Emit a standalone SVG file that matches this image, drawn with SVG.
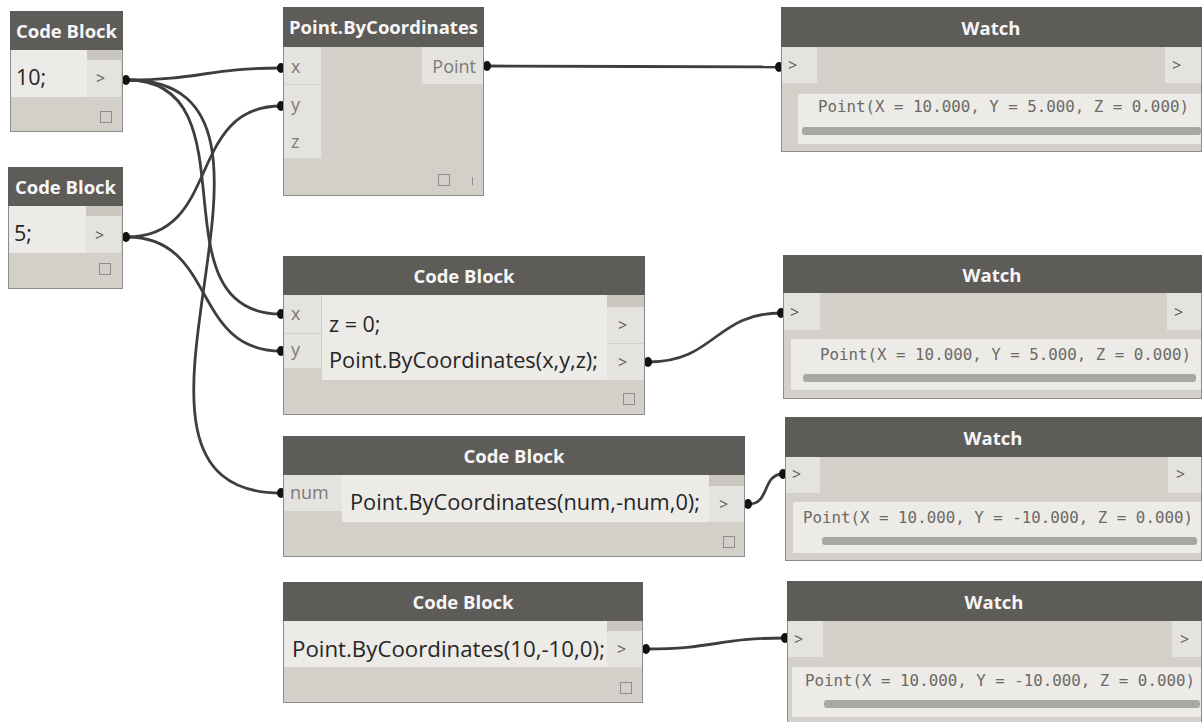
<svg xmlns="http://www.w3.org/2000/svg" width="1203" height="722" viewBox="0 0 1203 722">
<style>
.bd{fill:#d3d0c9;stroke:#8e8c88;stroke-width:1}
.hd{fill:#5e5c59}
.lt{fill:#ecebe7}
.pt{fill:#e5e3df}
.st{fill:#c9c6bf}
.sb{fill:#a9a7a3}
.sq{fill:none;stroke:#8f8d89;stroke-width:1}
.ttl{font-family:"Open Sans","Noto Sans",sans-serif;font-weight:bold;font-size:18.5px;fill:#f6f6f6;text-anchor:middle}
.code{font-family:"Open Sans","Noto Sans",sans-serif;font-size:21.5px;fill:#262626}
.pl{font-family:"Open Sans","Noto Sans",sans-serif;font-size:18px;fill:#7c7a76}
.gt{font-family:"Open Sans","Noto Sans",sans-serif;font-size:16px;fill:#5a5a5a}
.mono{font-family:"DejaVu Sans Mono","Liberation Mono",monospace;font-size:15.8px;fill:#6b6965}
.w{fill:none;stroke:#3e3e3e;stroke-width:2.8}
.dot{fill:#111}
</style>
<g id="connectors">
<path class="w" d="M127,80 C199,80 209,68 281,68"/>
<path class="w" d="M127,80 C258,80 150,314 281,314"/>
<path class="w" d="M127,80 C340,80 68,493 281,493"/>
<path class="w" d="M127,237 C222,237 186,106 281,106"/>
<path class="w" d="M127,237 C217,237 191,351 281,351"/>
<path class="w" d="M488,66 C625,66 642,67 779,67"/>
<path class="w" d="M649,362 C715,362 715,313 781,313"/>
<path class="w" d="M749,504 C770,504 762,474 783,474"/>
<path class="w" d="M647,649 C713,649 719,638 785,638"/>
<ellipse class="dot" cx="126" cy="80" rx="4" ry="5"/>
<ellipse class="dot" cx="126" cy="237" rx="4" ry="5"/>
<ellipse class="dot" cx="281" cy="68" rx="4" ry="5"/>
<ellipse class="dot" cx="281" cy="106" rx="4" ry="5"/>
<ellipse class="dot" cx="281" cy="314" rx="4" ry="5"/>
<ellipse class="dot" cx="281" cy="351" rx="4" ry="5"/>
<ellipse class="dot" cx="281" cy="493" rx="4" ry="5"/>
<ellipse class="dot" cx="487" cy="66" rx="4" ry="5"/>
<ellipse class="dot" cx="779" cy="67" rx="4" ry="5"/>
<ellipse class="dot" cx="648" cy="362" rx="4" ry="5"/>
<ellipse class="dot" cx="781" cy="313" rx="4" ry="5"/>
<ellipse class="dot" cx="748" cy="504" rx="4" ry="5"/>
<ellipse class="dot" cx="783" cy="474" rx="4" ry="5"/>
<ellipse class="dot" cx="646" cy="649" rx="4" ry="5"/>
<ellipse class="dot" cx="785" cy="638" rx="4" ry="5"/>
</g>
<g id="cb1">
<rect class="bd" x="10.5" y="11.5" width="112" height="120"/>
<rect class="hd" x="10" y="11" width="113" height="39"/>
<text class="ttl" x="66.5" y="38">Code Block</text>
<rect class="lt" x="11" y="50" width="76" height="47"/>
<rect class="st" x="87" y="50" width="34" height="10"/>
<rect class="pt" x="87" y="60" width="34" height="37"/>
<text class="code" x="16" y="85">10;</text>
<text class="gt" x="96" y="84">&gt;</text>
<rect class="sq" x="100.5" y="111.5" width="11" height="11"/>
</g>
<g id="cb2">
<rect class="bd" x="8.5" y="167.5" width="114" height="121"/>
<rect class="hd" x="8" y="167" width="115" height="39"/>
<text class="ttl" x="65.5" y="194">Code Block</text>
<rect class="lt" x="9" y="206" width="77" height="47"/>
<rect class="st" x="86" y="206" width="35" height="10"/>
<rect class="pt" x="86" y="216" width="35" height="37"/>
<text class="code" x="14" y="241">5;</text>
<text class="gt" x="95" y="241">&gt;</text>
<rect class="sq" x="99.5" y="263.5" width="11" height="11"/>
</g>
<g id="pbc">
<rect class="bd" x="283.5" y="7.5" width="200" height="188"/>
<rect class="hd" x="283" y="7" width="201" height="40"/>
<text class="ttl" x="383.5" y="34">Point.ByCoordinates</text>
<rect class="pt" x="284" y="47" width="37" height="37"/>
<rect class="pt" x="284" y="85" width="37" height="73"/>
<text class="pl" x="291" y="73">x</text>
<text class="pl" x="291" y="111">y</text>
<text class="pl" x="291" y="148">z</text>
<rect class="pt" x="422" y="47" width="61" height="37"/>
<text class="pl" x="476" y="73" text-anchor="end">Point</text>
<rect class="sq" x="438.5" y="174.5" width="11" height="11"/>
<line x1="472.5" y1="177" x2="472.5" y2="185" stroke="#8f8d89" stroke-width="1"/>
</g>
<g id="cb3">
<rect class="bd" x="283.5" y="256.5" width="361" height="158"/>
<rect class="hd" x="283" y="256" width="362" height="39"/>
<text class="ttl" x="464" y="283">Code Block</text>
<rect class="pt" x="284" y="295" width="37" height="38"/>
<rect class="pt" x="284" y="334" width="37" height="34"/>
<text class="pl" x="291" y="320">x</text>
<text class="pl" x="291" y="356">y</text>
<rect class="lt" x="322" y="295" width="285" height="85"/>
<rect class="st" x="607" y="295" width="37" height="12"/>
<rect class="pt" x="607" y="307" width="37" height="36"/>
<rect class="pt" x="607" y="344" width="37" height="36"/>
<text class="gt" x="618" y="331">&gt;</text>
<text class="gt" x="618" y="368">&gt;</text>
<text class="code" x="329" y="332">z = 0;</text>
<text class="code" x="329" y="368" textLength="269" lengthAdjust="spacingAndGlyphs">Point.ByCoordinates(x,y,z);</text>
<rect class="sq" x="623.5" y="393.5" width="11" height="11"/>
</g>
<g id="cb4">
<rect class="bd" x="283.5" y="436.5" width="461" height="120"/>
<rect class="hd" x="283" y="436" width="462" height="39"/>
<text class="ttl" x="514" y="463">Code Block</text>
<rect class="pt" x="284" y="475" width="58" height="36"/>
<text class="pl" x="290" y="499">num</text>
<rect class="lt" x="342" y="475" width="367" height="47"/>
<rect class="st" x="709" y="475" width="35" height="11"/>
<rect class="pt" x="709" y="486" width="35" height="36"/>
<text class="gt" x="719" y="510">&gt;</text>
<text class="code" x="350" y="510" textLength="350" lengthAdjust="spacingAndGlyphs">Point.ByCoordinates(num,-num,0);</text>
<rect class="sq" x="723.5" y="536.5" width="11" height="11"/>
</g>
<g id="cb5">
<rect class="bd" x="283.5" y="582.5" width="359" height="120"/>
<rect class="hd" x="283" y="582" width="360" height="39"/>
<text class="ttl" x="463" y="609">Code Block</text>
<rect class="lt" x="284" y="621" width="323" height="46"/>
<rect class="st" x="607" y="621" width="35" height="10"/>
<rect class="pt" x="607" y="631" width="35" height="36"/>
<text class="gt" x="617" y="655">&gt;</text>
<text class="code" x="292" y="657" textLength="313" lengthAdjust="spacingAndGlyphs">Point.ByCoordinates(10,-10,0);</text>
<rect class="sq" x="620.5" y="682.5" width="11" height="11"/>
</g>
<g id="watch1">
<rect class="bd" x="781.5" y="7.5" width="420" height="144"/>
<rect class="hd" x="781" y="7" width="421" height="40"/>
<text class="ttl" x="991" y="35">Watch</text>
<rect class="pt" x="782" y="47" width="35" height="36"/>
<rect class="pt" x="1165" y="47" width="36" height="36"/>
<text class="gt" x="788" y="71">&gt;</text>
<text class="gt" x="1172" y="71">&gt;</text>
<rect class="lt" x="798" y="94" width="403" height="50"/>
<text class="mono" x="818" y="112">Point(X = 10.000, Y = 5.000, Z = 0.000)</text>
<rect class="sb" x="802" y="127" width="399" height="8" rx="3"/>
</g>
<g id="watch2">
<rect class="bd" x="783.5" y="255.5" width="418" height="143"/>
<rect class="hd" x="783" y="255" width="419" height="38"/>
<text class="ttl" x="992" y="282">Watch</text>
<rect class="pt" x="784" y="293" width="36" height="37"/>
<rect class="pt" x="1167" y="293" width="34" height="37"/>
<text class="gt" x="790" y="318">&gt;</text>
<text class="gt" x="1174" y="318">&gt;</text>
<rect class="lt" x="791" y="339" width="410" height="51"/>
<text class="mono" x="820" y="360">Point(X = 10.000, Y = 5.000, Z = 0.000)</text>
<rect class="sb" x="803" y="374" width="393" height="8" rx="3"/>
</g>
<g id="watch3">
<rect class="bd" x="785.5" y="417.5" width="416" height="143"/>
<rect class="hd" x="785" y="417" width="417" height="40"/>
<text class="ttl" x="993" y="445">Watch</text>
<rect class="pt" x="786" y="457" width="34" height="36"/>
<rect class="pt" x="1168" y="457" width="33" height="36"/>
<text class="gt" x="792" y="480">&gt;</text>
<text class="gt" x="1176" y="480">&gt;</text>
<rect class="lt" x="793" y="502" width="408" height="51"/>
<text class="mono" x="803" y="523">Point(X = 10.000, Y = -10.000, Z = 0.000)</text>
<rect class="sb" x="822" y="537" width="375" height="8" rx="3"/>
</g>
<g id="watch4">
<rect class="bd" x="787.5" y="581.5" width="414" height="145"/>
<rect class="hd" x="787" y="581" width="415" height="40"/>
<text class="ttl" x="994" y="609">Watch</text>
<rect class="pt" x="788" y="621" width="35" height="36"/>
<rect class="pt" x="1172" y="621" width="29" height="36"/>
<text class="gt" x="794" y="645">&gt;</text>
<text class="gt" x="1180" y="645">&gt;</text>
<rect class="lt" x="792" y="667" width="409" height="50"/>
<text class="mono" x="805" y="686">Point(X = 10.000, Y = -10.000, Z = 0.000)</text>
<rect class="sb" x="824" y="700" width="376" height="8" rx="3"/>
</g>
</svg>
